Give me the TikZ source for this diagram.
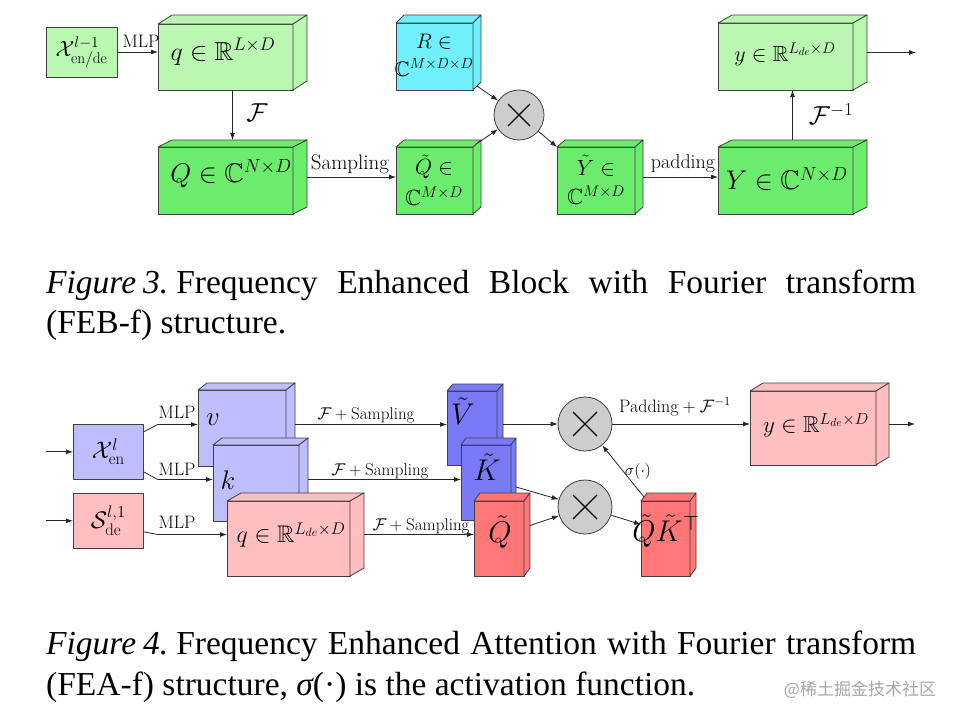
\RequirePackage{fix-cm}
\documentclass[tikz,border=0pt]{standalone}
\usepackage{amsmath,amssymb}
\usepackage{fontspec}
\newfontfamily\capfont{Liberation Serif}
\newfontfamily\cjkfont{Noto Sans CJK SC}
\usetikzlibrary{arrows.meta,calc}
\definecolor{lgreen}{RGB}{186,248,178}
\definecolor{dgreen}{RGB}{108,236,108}
\definecolor{cyanb}{RGB}{112,240,250}
\definecolor{lblue}{RGB}{190,190,255}
\definecolor{dblue}{RGB}{122,122,246}
\definecolor{lred}{RGB}{255,190,192}
\definecolor{dred}{RGB}{255,118,118}
\definecolor{mulgray}{RGB}{205,205,205}
\newcommand\fs[1]{\fontsize{#1}{#1}\selectfont}
\tikzset{
  face/.style={draw=black!75, line width=0.8pt, line join=round},
  arr/.style={-{Latex[length=7pt,width=5pt]}, line width=0.8pt, draw=black!85},
  mul/.style={circle, draw=black!75, fill=mulgray, line width=0.8pt, inner sep=0pt},
  txt/.style={inner sep=0pt},
}
\newcommand\mycube[8]{%
  \node[face, fill=#8, inner sep=0pt, outer sep=0pt, anchor=north west,
        minimum width={(#4-#2)*1pt}, minimum height={(#5-#3)*1pt}] (#1) at (#2,#3) {};
  \draw[face, fill=#8] (#2,#3) -- (#2+#6,#3-#7) -- (#4+#6,#3-#7) -- (#4,#3) -- cycle;
  \draw[face, fill=#8] (#4,#3) -- (#4+#6,#3-#7) -- (#4+#6,#5-#7) -- (#4,#5) -- cycle;
  \coordinate (#1-r) at (#4+#6, {(#3+#5)/2-#7/2});
  \coordinate (#1-t) at ({(#2+#4)/2+#6/2}, #3-#7);
  \coordinate (#1-tr) at (#4+#6/2, #3-#7/2);
  \coordinate (#1-tl) at (#2+#6/2, #3-#7/2);
  \coordinate (#1-sb) at (#4+#6/2, #5-#7/2);
}
\begin{document}
\begin{tikzpicture}[x=1pt,y=-1pt]
\fill[white] (0,0) rectangle (960,720);
\useasboundingbox (0,0) rectangle (960,720);

% ---------- Figure 3 ----------
\node[face, fill=lgreen, inner sep=0pt, minimum width=71pt, minimum height=50pt] (X) at (81.5,52)
  {\fs{22}$\mathcal{X}^{l-1}_{\mathrm{en/de}}$};
\mycube{q}{158}{24}{293}{90}{14}{9}{lgreen}
\mycube{Q}{158}{147}{293}{214}{14}{7}{dgreen}
\mycube{R}{396}{23}{473}{90}{8}{8}{cyanb}
\mycube{Qt}{396}{147}{473}{214}{8}{7}{dgreen}
\mycube{Yt}{557}{147}{635}{214}{8}{7}{dgreen}
\mycube{y}{718}{23}{853}{90}{14}{8}{lgreen}
\mycube{Y}{718}{147}{853}{214}{14}{7}{dgreen}
\node[mul, minimum size=50pt] (m) at (519,115) {};
\draw[line width=1.1pt] ([shift={(-11pt,-11pt)}]m.center) -- ([shift={(11pt,11pt)}]m.center);
\draw[line width=1.1pt] ([shift={(-11pt,11pt)}]m.center) -- ([shift={(11pt,-11pt)}]m.center);

\node[txt, font=\fs{18}] (lMLP) at (141,41) {MLP};
\node[txt, font=\fs{26}] (lF) at (257,113) {$\mathcal{F}$};
\node[txt, font=\fs{26}] (lq) at (223,52) {$q\in\mathbb{R}^{L\times D}$};
\node[txt, font=\fs{27}] (lQ) at (231,174) {$Q\in\mathbb{C}^{N\times D}$};
\node[txt, font=\fs{21}] (lSamp) at (350,164) {Sampling};
\node[txt, font=\fs{21}, align=center] (lR) at (434,55) {$R\in$\\[7pt]$\mathbb{C}^{M\times D\times D}$};
\node[txt, font=\fs{22}, align=center] (lQt) at (434,180) {$\tilde{Q}\in$\\[7pt]$\mathbb{C}^{M\times D}$};
\node[txt, font=\fs{22}, align=center] (lYt) at (596,180) {$\tilde{Y}\in$\\[7pt]$\mathbb{C}^{M\times D}$};
\node[txt, font=\fs{20}] (lpad) at (683,164) {padding};
\node[txt, font=\fs{22}] (ly) at (785,54) {$y\in\mathbb{R}^{L_{de}\times D}$};
\node[txt, font=\fs{26}] (lFi) at (831,114) {$\mathcal{F}^{-1}$};
\node[txt, font=\fs{27}] (lY) at (787,179) {$Y\in\mathbb{C}^{N\times D}$};

\draw[arr] (X.east) -- (X.east -| q.west);
\draw[arr] (q.south -| Q-t) -- (Q-t);
\draw[arr] (Q-r) -- (Q-r -| Qt.west);
\draw[arr] (R-sb) -- (m);
\draw[arr] (Qt-tr) -- (m);
\draw[arr] (m) -- (Yt.north west);
\draw[arr] (Yt-r) -- (Yt-r -| Y.west);
\draw[arr] (Y-t) -- (Y-t |- y.south);
\draw[arr] (y-r) -- ++(49,0);

% ---------- Figure 4 ----------
\node[face, fill=lblue, inner sep=0pt, minimum width=70pt, minimum height=55pt] (Xen) at (108.3,451.8)
  {\fs{24}$\mathcal{X}^{l}_{\mathrm{en}}$};
\node[face, fill=lred, inner sep=0pt, minimum width=70pt, minimum height=55pt] (Sde) at (108.3,520.8)
  {\fs{24}$\mathcal{S}^{l,1}_{\mathrm{de}}$};
\mycube{v}{198}{390}{286}{466}{9}{7}{lblue}
\mycube{k}{213}{445}{299}{521}{9}{7}{lblue}
\mycube{qb}{227}{501}{350}{576}{14}{8}{lred}
\mycube{Vt}{447}{391}{497}{465}{6}{7}{dblue}
\mycube{Kt}{461}{445}{511}{520}{5}{7}{dblue}
\mycube{Qtb}{474}{501}{524}{576}{6}{8}{dred}
\mycube{QK}{641}{501}{690}{576}{6}{8}{dred}
\mycube{yb}{750}{391}{876}{465}{13}{8}{lred}
\node[mul, minimum size=54pt] (m1) at (585,424) {};
\node[mul, minimum size=54pt] (m2) at (585,507) {};
\foreach \c in {m1,m2}{
  \draw[line width=1.1pt] ([shift={(-12pt,-12pt)}]\c.center) -- ([shift={(12pt,12pt)}]\c.center);
  \draw[line width=1.1pt] ([shift={(-12pt,12pt)}]\c.center) -- ([shift={(12pt,-12pt)}]\c.center);
}

\node[txt, font=\fs{18}] (lm1) at (177,412) {MLP};
\node[txt, font=\fs{18}] (lm2) at (177,469) {MLP};
\node[txt, font=\fs{18}] (lm3) at (177,522) {MLP};
\node[txt, font=\fs{27}] (lv) at (213,420) {$v$};
\node[txt, font=\fs{27}] (lk) at (228,480) {$k$};
\node[txt, font=\fs{24}] (lqb) at (291,535) {$q\in\mathbb{R}^{L_{de}\times D}$};
\node[txt, font=\fs{17}] (lfs1) at (366,415) {$\mathcal{F}+\text{Sampling}$};
\node[txt, font=\fs{17}] (lfs2) at (380,471) {$\mathcal{F}+\text{Sampling}$};
\node[txt, font=\fs{17}] (lfs3) at (421,526) {$\mathcal{F}+\text{Sampling}$};
\node[txt, font=\fs{30}] (lVt) at (463,411) {$\tilde{V}$};
\node[txt, font=\fs{30}] (lKt) at (487,467) {$\tilde{K}$};
\node[txt, font=\fs{30}] (lQtb) at (500,532) {$\tilde{Q}$};
\node[txt, font=\fs{30}] (lQK) at (666,531) {$\tilde{Q}\tilde{K}^{\top}$};
\node[txt, font=\fs{16}] (lsig) at (638,471) {$\sigma(\cdot)$};
\node[txt, font=\fs{18}] (lpad2) at (675,407) {$\text{Padding}+\mathcal{F}^{-1}$};
\node[txt, font=\fs{23}] (lyb) at (816,425) {$y\in\mathbb{R}^{L_{de}\times D}$};

\draw[arr] ([xshift=-27pt]Xen.west) -- (Xen.west);
\draw[arr] ([xshift=-27pt]Sde.west) -- (Sde.west);
\coordinate (xa) at ([xshift=14pt]Xen.east);
\coordinate (sa) at ([xshift=14pt]Sde.east);
\draw[arr] ([yshift=20pt]Xen.east) -- (xa |- v-r) -- (v-r -| v.west);
\draw[arr] ([yshift=-20pt]Xen.east) -- (xa |- k-r) -- (k-r -| k.west);
\draw[arr] ([yshift=-11pt]Sde.east) -- (sa |- qb-r) -- (qb-r -| qb.west);
\draw[arr] (v-r) -- (v-r -| Vt.west);
\draw[arr] (k-r) -- (k-r -| Kt.west);
\draw[arr] (qb-r) -- (qb-r -| Qtb.west);
\draw[arr] (Vt-r |- m1) -- (m1);
\draw[arr] (m1) -- (m1 -| yb.west);
\draw[arr] (yb-r) -- ++(26,0);
\draw[arr] ([yshift=-8pt]Kt-r) -- (m2);
\draw[arr] ([yshift=9pt]Qtb-r) -- (m2);
\draw[arr] (m2) -- ([yshift=14pt]QK.west);
\draw[arr] (QK-tl) -- (m1);

% ---------- captions ----------
\node[txt, anchor=base west] (c1a) at (46,293)
  {\capfont\fs{33.5}\makebox[870pt][s]{\itshape Figure\hspace{7pt}3.\upshape\hspace{8pt}Frequency Enhanced Block with Fourier transform}};
\node[txt, anchor=base west] (c1b) at (46,333) {\capfont\fs{33.5}(FEB-f) structure.};
\node[txt, anchor=base west] (c2a) at (46,654)
  {\capfont\fs{33.5}\makebox[870pt][s]{\itshape Figure\hspace{7pt}4.\upshape\hspace{8pt}Frequency Enhanced Attention with Fourier transform}};
\node[txt, anchor=base west] (c2b) at (46,695) {\capfont\fs{33.5}(FEA-f) structure, {\itshape σ}(·) is the activation function.};
\node[txt, text=black!35] (wm) at (860,690) {\cjkfont\fs{17}@稀土掘金技术社区};
\end{tikzpicture}
\end{document}
